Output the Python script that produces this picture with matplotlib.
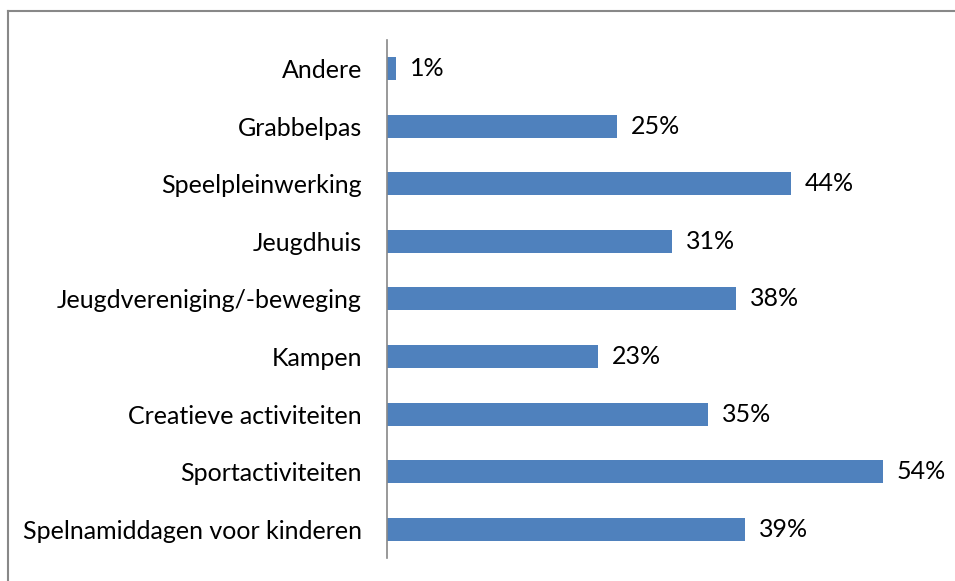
import matplotlib
matplotlib.use('Agg')
import matplotlib.pyplot as plt
from matplotlib.lines import Line2D

plt.rcParams['font.family'] = ['Lato', 'DejaVu Sans']

categories = ['Andere', 'Grabbelpas', 'Speelpleinwerking', 'Jeugdhuis',
              'Jeugdvereniging/-beweging', 'Kampen', 'Creatieve activiteiten',
              'Sportactiviteiten', 'Spelnamiddagen voor kinderen']
values = [1, 25, 44, 31, 38, 23, 35, 54, 39]

bar_color = '#4F81BD'
fsize = 18

fig = plt.figure(figsize=(9.55, 5.81), dpi=100)
ax = fig.add_axes([0.4052, 0.0396, 0.577, 0.8916])

y = list(range(len(categories)))
ax.barh(y, values, height=0.4, color=bar_color)
ax.set_ylim(len(categories) - 0.5, -0.5)
ax.set_xlim(0, 60)

ax.set_yticks(y)
ax.set_yticklabels(categories, fontsize=fsize)
ax.tick_params(axis='y', length=0, pad=18)
ax.set_xticks([])

for s in ['top', 'right', 'bottom']:
    ax.spines[s].set_visible(False)
ax.spines['left'].set_color('#888888')
ax.spines['left'].set_linewidth(1.2)

for yi, v in zip(y, values):
    ax.annotate('%d%%' % v, xy=(v, yi), xytext=(10, 0), textcoords='offset points',
                va='center', ha='left', fontsize=fsize)

# chart border (only top and left visible in the crop)
fig.add_artist(Line2D([8 / 955, 8 / 955], [0, 1 - 11 / 581], transform=fig.transFigure,
                      color='#888888', linewidth=1.5))
fig.add_artist(Line2D([8 / 955, 1], [1 - 11 / 581, 1 - 11 / 581], transform=fig.transFigure,
                      color='#888888', linewidth=1.5))

fig.savefig('out.png', dpi=100)
